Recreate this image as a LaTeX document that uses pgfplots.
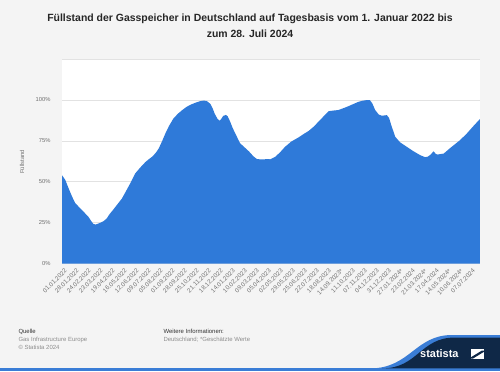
\documentclass[border=0pt]{standalone}
\usepackage{pgfplots}
\pgfplotsset{compat=1.18}
\usepackage{fontspec}
\setmainfont{Liberation Sans}
\definecolor{bg}{HTML}{F4F4F4}
\definecolor{barblue}{HTML}{2F7AD9}
\definecolor{gridc}{HTML}{E2E2E2}
\definecolor{txtgray}{HTML}{707070}
\definecolor{navy}{HTML}{0F2847}
\definecolor{logoblue}{HTML}{3A7DD6}
\begin{document}
\begin{tikzpicture}[x=1bp,y=1bp]
\fill[bg] (0,0) rectangle (500,371);
\node[font=\bfseries\fontsize{10.5}{16.5}\selectfont, text=black!85, align=center] at (250,345.5) {Füllstand der Gasspeicher in Deutschland auf Tagesbasis vom 1. Januar 2022 bis\\zum 28. Juli 2024};
\begin{axis}[at={(62bp,107.5bp)}, anchor=south west, scale only axis,
  width=418bp, height=204.5bp,
  xmin=-0.5, xmax=939.5, ymin=0, ymax=125,
  axis background/.style={fill=white},
  axis line style={draw=none}, tick style={draw=none},
  ytick={0,25,50,75,100,125},
  yticklabels={0\%,25\%,50\%,75\%,100\%,{}},
  ymajorgrids, grid style={gridc, line width=0.6bp},
  yticklabel style={font=\fontsize{5.8}{6}\selectfont, text=txtgray, xshift=-8bp},
  xtick={0,27,...,918},
  xticklabels={01.01.2022,28.01.2022,24.02.2022,23.03.2022,19.04.2022,16.05.2022,12.06.2022,09.07.2022,05.08.2022,01.09.2022,28.09.2022,25.10.2022,21.11.2022,18.12.2022,14.01.2023,10.02.2023,09.03.2023,05.04.2023,02.05.2023,29.05.2023,25.06.2023,22.07.2023,18.08.2023,14.09.2023*,11.10.2023,07.11.2023,04.12.2023,31.12.2023,27.01.2024*,23.02.2024,21.03.2024*,17.04.2024,14.05.2024*,10.06.2024*,07.07.2024},
  xticklabel style={rotate=45, anchor=east, font=\fontsize{6.2}{6.5}\selectfont, text=txtgray, yshift=-7bp, xshift=-1bp, inner sep=1bp},
]
\addplot[fill=barblue, draw=none] table {
x y
0 53.8
7 51.0
15 45.5
22 41
29 37
36 35
45 32.5
52 30.5
59 28.5
65 26
70 24.2
75 23.8
82 24.5
88 25.2
93 25.9
100 27.5
106 30
115 33
125 36.5
134 39.6
145 45
155 50
164 55
175 58.5
187 62
195 63.8
202 65.2
210 67.5
217 70.3
225 75
232 79.5
240 84
250 88.6
260 91.5
270 93.8
280 95.8
290 97.2
300 98.3
310 99.2
318 99.6
325 99.3
333 97.6
338 95
343 91.5
349 88.5
354 87.2
358 88.5
362 90.2
368 90.8
372 90
378 86.5
383 83
390 79
400 73.5
410 71
420 68.5
430 65.5
438 63.8
450 63.6
460 63.8
468 63.7
479 65.2
490 68
501 71.3
515 74.5
531 77
545 79.5
554 81
565 83.5
576 86.6
588 90
599 93.1
610 93.5
621 93.8
633 95
644 96.2
655 97.5
666 98.8
675 99.5
685 99.9
692 99.8
697 98
704 93.7
712 91
719 90.3
730 90.7
735 89
740 84.5
749 77.4
760 74
775 71.3
790 68.6
805 66.2
816 65
822 65.3
828 66.4
835 68.6
840 67
844 66.6
858 67.2
873 70.7
895 75.5
910 79.5
925 84.1
939 88.2
} \closedcycle;
\end{axis}
\node[rotate=90, font=\fontsize{5.8}{6}\selectfont, text=txtgray] at (22,209) {Füllstand};
% footer
\node[anchor=west, font=\fontsize{6}{6}\selectfont, text=black!80] at (15,39.3) {Quelle};
\node[anchor=west, font=\fontsize{6}{6}\selectfont, text=txtgray!80] at (15,31) {Gas Infrastructure Europe};
\node[anchor=west, font=\fontsize{6}{6}\selectfont, text=txtgray!80] at (15,23.3) {© Statista 2024};
\node[anchor=west, font=\fontsize{6}{6}\selectfont, text=black!80] at (160,39.3) {Weitere Informationen:};
\node[anchor=west, font=\fontsize{6}{6}\selectfont, text=txtgray!80] at (160,31) {Deutschland; *Geschätzte Werte};
% logo band
\fill[logoblue] (0,0) rectangle (500,2.6);
\fill[logoblue] (370,2.6) .. controls (410,2.6) and (415,36) .. (452,36) -- (500,36) -- (500,2.6) -- cycle;
\fill[navy] (382,2.6) .. controls (418,2.6) and (420,33.5) .. (455,33.5) -- (500,33.5) -- (500,2.6) -- cycle;
\node[anchor=west, font=\bfseries\fontsize{11}{12}\selectfont, text=white, inner sep=0] at (420,17) {statista};
\fill[white] (471,12.5) rectangle (484,22);
\fill[navy] (471,13.8) -- (482,20.5) -- (484,20.5) -- (484,19.2) -- (473,12.5) -- (471,12.5) -- cycle;
\end{tikzpicture}
\end{document}
